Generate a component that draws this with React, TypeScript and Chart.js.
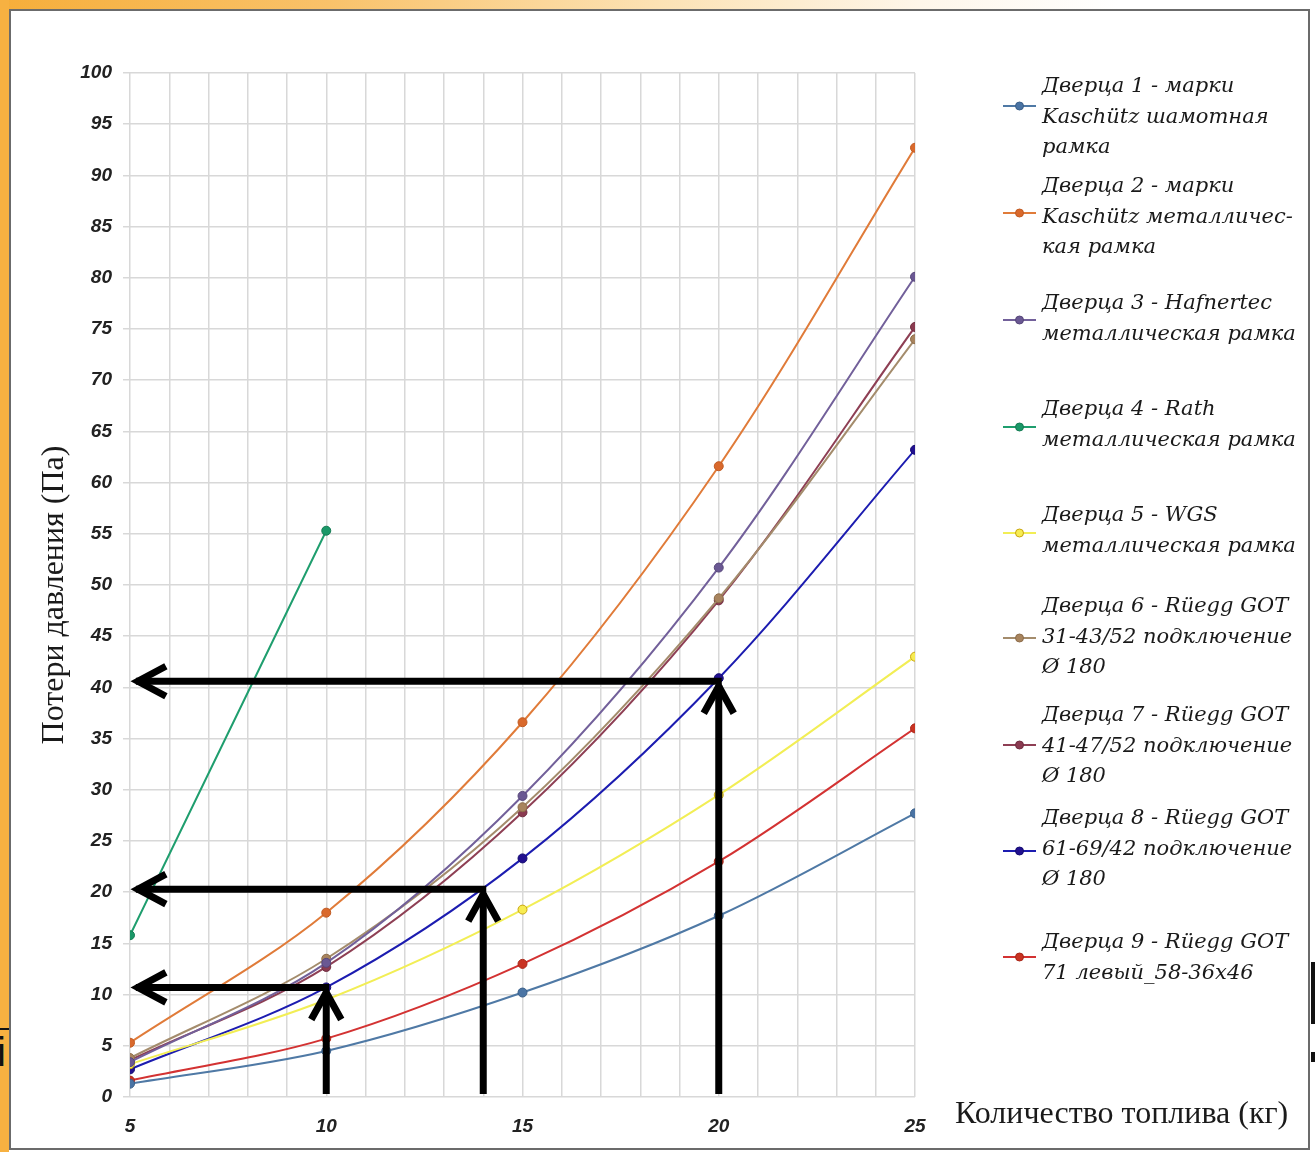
import React, { useEffect, useRef } from 'react';
import { Chart, registerables } from 'chart.js';

Chart.register(...registerables);

// ---------- data ----------
const fuelKg = [5, 10, 15, 20, 25];
const seriesLabels: string[][] = [
  ['Дверца 1 - марки', 'Kaschütz шамотная', 'рамка'],
  ['Дверца 2 - марки', 'Kaschütz металличес-', 'кая рамка'],
  ['Дверца 3 - Hafnertec', 'металлическая рамка'],
  ['Дверца 4 - Rath', 'металлическая рамка'],
  ['Дверца 5 - WGS', 'металлическая рамка'],
  ['Дверца 6 - Rüegg GOT', '31-43/52 подключение', 'Ø 180'],
  ['Дверца 7 - Rüegg GOT', '41-47/52 подключение', 'Ø 180'],
  ['Дверца 8 - Rüegg GOT', '61-69/42 подключение', 'Ø 180'],
  ['Дверца 9 - Rüegg GOT', '71 левый_58-36x46'],
];
const door1 = [1.3, 4.5, 10.2, 17.7, 27.7];
const door2 = [5.3, 18.0, 36.6, 61.6, 92.7];
const door3 = [3.4, 13.1, 29.4, 51.7, 80.1];
const door4 = [15.8, 55.3];
const door5 = [3.2, 9.5, 18.3, 29.5, 43.0];
const door6 = [3.8, 13.5, 28.3, 48.7, 74.0];
const door7 = [3.6, 12.7, 27.8, 48.5, 75.2];
const door8 = [2.7, 10.7, 23.3, 40.9, 63.2];
const door9 = [1.6, 5.7, 13.0, 23.0, 36.0];
const allSeries = [door1, door2, door3, door4, door5, door6, door7, door8, door9];

// arrows (read-off lines drawn on the chart)
const arrowFuel = [10, 14, 20];
const arrowLoss = [10.7, 20.3, 40.6];
const arrowTargetFuel = 5.15;

const yTitle = 'Потери давления (Па)';
const xTitle = 'Количество топлива (кг)';

// ---------- styles ----------
const lineColors = ['#4F79A5', '#E07B39', '#72609A', '#1F9E6E', '#F2EE55', '#A48C6C', '#8E3F54', '#1C1CB0', '#D33232'];
const pointFill = ['#4A74A4', '#D9692C', '#6A5893', '#1A9868', '#F7EC52', '#A8845E', '#8A3A50', '#22108F', '#C93322'];
const pointEdge = ['#3A5F88', '#C05A22', '#564679', '#147B53', '#C8A510', '#8C6C4A', '#6F2C3E', '#120A70', '#A82618'];

const legendFirstLineY = [87, 187, 304, 410, 516, 607, 716, 819, 943];
const legendMarkerY = [106, 213, 320, 427, 533, 638, 745, 851, 957];
const legendLineGap = 30.5;

const W = 1315;
const H = 1152;

export default function App() {
  const ref = useRef<HTMLCanvasElement | null>(null);

  useEffect(() => {
    if (!ref.current) return;

    const arrowPlugin = {
      id: 'arrows',
      afterDatasetsDraw(chart: any) {
        const { ctx, scales } = chart;
        const xs = scales.x;
        const ys = scales.y;
        ctx.save();
        ctx.strokeStyle = '#000';
        ctx.lineWidth = 7;
        ctx.lineCap = 'butt';
        ctx.lineJoin = 'miter';
        for (let i = 0; i < arrowFuel.length; i++) {
          const px = xs.getPixelForValue(arrowFuel[i]);
          const py = ys.getPixelForValue(arrowLoss[i]);
          const p0 = ys.getPixelForValue(0);
          const pl = xs.getPixelForValue(arrowTargetFuel);
          // vertical shaft
          ctx.beginPath();
          ctx.moveTo(px, p0 - 3);
          ctx.lineTo(px, py + 4);
          ctx.stroke();
          // vertical head
          ctx.beginPath();
          ctx.moveTo(px - 15, py + 32);
          ctx.lineTo(px, py + 5);
          ctx.lineTo(px + 15, py + 32);
          ctx.stroke();
          // horizontal shaft
          ctx.beginPath();
          ctx.moveTo(px + 3, py);
          ctx.lineTo(pl, py);
          ctx.stroke();
          // horizontal head
          ctx.beginPath();
          ctx.moveTo(pl + 30, py - 15);
          ctx.lineTo(pl + 2, py);
          ctx.lineTo(pl + 30, py + 15);
          ctx.stroke();
        }
        ctx.restore();
      },
    };

    const textPlugin = {
      id: 'texts',
      afterDraw(chart: any) {
        const { ctx } = chart;
        ctx.save();
        // axis titles
        ctx.fillStyle = '#1a1a1a';
        ctx.font = '32px "Liberation Serif"';
        ctx.textBaseline = 'middle';
        ctx.textAlign = 'center';
        ctx.save();
        ctx.translate(55, 595);
        ctx.rotate(-Math.PI / 2);
        ctx.fillText(yTitle, 0, 0);
        ctx.restore();
        ctx.textAlign = 'left';
        ctx.fillText(xTitle, 955, 1115);

        // legend
        chart.data.datasets.forEach((ds: any, i: number) => {
          const my = legendMarkerY[i];
          ctx.strokeStyle = ds.borderColor;
          ctx.lineWidth = 2;
          ctx.beginPath();
          ctx.moveTo(1003, my);
          ctx.lineTo(1036, my);
          ctx.stroke();
          ctx.beginPath();
          ctx.arc(1019.5, my, 4, 0, Math.PI * 2);
          ctx.fillStyle = ds.pointBackgroundColor;
          ctx.fill();
          ctx.lineWidth = 1;
          ctx.strokeStyle = ds.pointBorderColor;
          ctx.stroke();
          ctx.fillStyle = '#1a1a1a';
          ctx.font = 'italic 21px "DejaVu Serif"';
          ctx.textAlign = 'left';
          ctx.textBaseline = 'middle';
          const lines: string[] = ds.label;
          lines.forEach((ln, k) => {
            ctx.fillText(ln, 1042, legendFirstLineY[i] + k * legendLineGap);
          });
        });
        ctx.restore();
      },
    };

    const datasets = allSeries.map((vals, i) => ({
      label: seriesLabels[i] as any,
      data: vals.map((v, k) => ({ x: fuelKg[k], y: v })),
      borderColor: lineColors[i],
      backgroundColor: lineColors[i],
      pointBackgroundColor: pointFill[i],
      pointBorderColor: pointEdge[i],
      pointBorderWidth: 1,
      pointRadius: 4.5,
      borderWidth: 2,
      tension: 0.33,
      fill: false,
    }));

    const tickFont = { family: '"Liberation Sans"', size: 19, style: 'italic' as const, weight: 'bold' as const };

    const chart = new Chart(ref.current, {
      type: 'line',
      data: { datasets },
      options: {
        animation: false,
        responsive: false,
        maintainAspectRatio: false,
        layout: { padding: { top: 73, right: 400, bottom: 0, left: 0 } },
        plugins: {
          legend: { display: false },
          tooltip: { enabled: false },
          title: { display: false },
        },
        scales: {
          x: {
            type: 'linear',
            min: 5,
            max: 25,
            afterFit(scale: any) {
              scale.height = 55;
              scale.paddingLeft = 0;
              scale.paddingRight = 0;
            },
            ticks: {
              stepSize: 1,
              autoSkip: false,
              maxRotation: 0,
              padding: 18,
              color: '#222',
              font: tickFont,
              callback: (v: any) => (Number(v) % 5 === 0 ? String(v) : ''),
            },
            grid: { color: '#d8d8d8', lineWidth: 1.5, drawTicks: false },
            border: { display: false },
          },
          y: {
            min: 0,
            max: 100,
            afterFit(scale: any) {
              scale.width = 130;
              scale.paddingTop = 0;
              scale.paddingBottom = 0;
            },
            ticks: {
              stepSize: 5,
              padding: 11,
              color: '#222',
              font: tickFont,
            },
            grid: { color: '#d8d8d8', lineWidth: 1.5, tickLength: 7 },
            border: { display: false },
          },
        },
      },
      plugins: [arrowPlugin, textPlugin],
    });
    return () => chart.destroy();
  }, []);

  return (
    <div style={{ position: 'absolute', left: 0, top: 0, width: W, height: H, background: '#ffffff', overflow: 'hidden' }}>
      <div style={{ position: 'absolute', left: 0, top: 0, width: W, height: 9, background: 'linear-gradient(to right, #F6AE3A 0%, #F9C26A 25%, #FCE2B4 50%, #FEF6EA 70%, #ffffff 85%)' }} />
      <div style={{ position: 'absolute', left: 0, top: 0, width: 9, height: H, background: '#F7B141' }} />
      <div style={{ position: 'absolute', left: 0, top: 1028, width: 9, height: 2, background: '#111' }} />
      <div style={{ position: 'absolute', left: 0, top: 1036, width: 9, height: 42, overflow: 'hidden' }}>
        <span style={{ position: 'absolute', left: -3, top: -6, font: '40px "Liberation Sans"', color: '#111' }}>i</span>
      </div>
      <div style={{ position: 'absolute', left: 1311, top: 962, width: 4, height: 62, background: '#111' }} />
      <div style={{ position: 'absolute', left: 1311, top: 1052, width: 4, height: 10, background: '#111' }} />
      <div style={{ position: 'absolute', left: 9, top: 9, width: 1301, height: 1141, boxSizing: 'border-box', border: '2px solid #6b6b6b', background: '#fff' }} />
      <canvas ref={ref} width={W} height={H} style={{ position: 'absolute', left: 0, top: 0 }} />
    </div>
  );
}
